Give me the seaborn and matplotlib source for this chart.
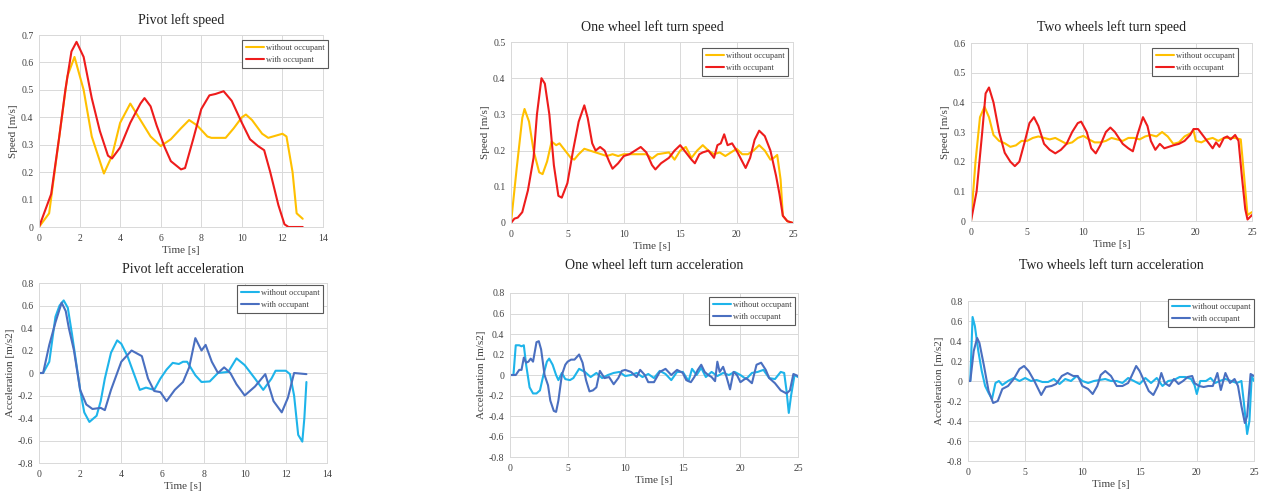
import numpy as np
import pandas as pd
import matplotlib
matplotlib.use("Agg")
import matplotlib.pyplot as plt
import seaborn as sns

# ---------------- data ----------------
# Pivot left speed [m/s]
pivot_speed_t_wo = [0, 0.5, 1.0, 1.4, 1.75, 2.2, 2.6, 3.2, 3.6, 4.0, 4.5, 5.0, 5.5, 6.0, 6.5, 7.0, 7.4,
                    7.8, 8.3, 8.5, 9.2, 9.6, 10.0, 10.2, 10.5, 11.0, 11.3, 12.0, 12.2, 12.5, 12.7, 13.0]
pivot_speed_wo = [0, 0.05, 0.33, 0.55, 0.62, 0.5, 0.33, 0.195, 0.26, 0.38, 0.45, 0.39, 0.33, 0.295, 0.32,
                  0.36, 0.39, 0.37, 0.33, 0.325, 0.325, 0.36, 0.40, 0.41, 0.39, 0.34, 0.325, 0.34, 0.33,
                  0.2, 0.05, 0.03]
pivot_speed_t_w = [0, 0.3, 0.6, 1.0, 1.3, 1.6, 1.85, 2.2, 2.6, 3.0, 3.4, 3.6, 4.0, 4.5, 5.0, 5.2, 5.5, 5.8,
                   6.2, 6.5, 7.0, 7.2, 7.6, 8.0, 8.4, 8.7, 9.1, 9.5, 10.0, 10.4, 10.8, 11.1, 11.4, 11.8,
                   12.1, 12.3, 13.0]
pivot_speed_w = [0, 0.06, 0.12, 0.33, 0.5, 0.64, 0.675, 0.62, 0.47, 0.35, 0.26, 0.25, 0.29, 0.38, 0.45,
                 0.47, 0.44, 0.37, 0.29, 0.24, 0.21, 0.215, 0.32, 0.43, 0.48, 0.485, 0.495, 0.46, 0.38,
                 0.32, 0.295, 0.28, 0.2, 0.08, 0.01, 0.0, 0.0]

# One wheel left turn speed [m/s]
one_speed_t_wo = [0, 0.5, 1.0, 1.2, 1.6, 2.0, 2.5, 2.8, 3.2, 3.6, 4.0, 4.3, 4.8, 5.3, 5.6, 6.0, 6.5, 7.0,
                  7.5, 8.0, 8.5, 9.0, 9.5, 10.0, 11.0, 12.0, 12.5, 13.0, 14.0, 14.5, 15.0, 15.5, 16.0,
                  16.5, 17.0, 17.5, 18.0, 18.5, 19.0, 19.5, 20.0, 20.5, 21.0, 21.5, 22.0, 22.5, 23.0,
                  23.3, 23.6, 23.9, 24.1, 24.5, 25.0]
one_speed_wo = [0, 0.15, 0.29, 0.315, 0.28, 0.2, 0.14, 0.135, 0.17, 0.225, 0.215, 0.22, 0.2, 0.18, 0.175,
                0.19, 0.205, 0.2, 0.195, 0.19, 0.185, 0.19, 0.185, 0.19, 0.19, 0.19, 0.178, 0.19, 0.195,
                0.175, 0.2, 0.21, 0.18, 0.2, 0.215, 0.2, 0.19, 0.195, 0.185, 0.195, 0.205, 0.19, 0.19,
                0.2, 0.215, 0.2, 0.175, 0.18, 0.188, 0.12, 0.02, 0.005, 0]
one_speed_t_w = [0, 0.3, 0.6, 1.0, 1.5, 2.0, 2.3, 2.7, 3.0, 3.4, 3.8, 4.2, 4.5, 5.0, 5.5, 6.0, 6.5, 6.8,
                 7.2, 7.5, 7.9, 8.3, 8.7, 9.0, 9.5, 10.0, 10.5, 11.0, 11.5, 12.0, 12.5, 12.8, 13.3, 14.0,
                 14.5, 15.0, 15.5, 16.0, 16.3, 16.7, 17.0, 17.5, 18.0, 18.3, 18.6, 18.9, 19.2, 19.6,
                 20.0, 20.5, 20.8, 21.2, 21.6, 22.0, 22.5, 23.0, 23.5, 23.8, 24.1, 24.5, 25.0]
one_speed_w = [0, 0.012, 0.015, 0.03, 0.09, 0.18, 0.3, 0.4, 0.385, 0.3, 0.16, 0.075, 0.07, 0.11, 0.2,
               0.28, 0.325, 0.29, 0.22, 0.2, 0.21, 0.2, 0.17, 0.15, 0.165, 0.185, 0.19, 0.2, 0.21, 0.195,
               0.16, 0.148, 0.165, 0.18, 0.2, 0.215, 0.195, 0.175, 0.165, 0.19, 0.195, 0.2, 0.18, 0.215,
               0.22, 0.245, 0.215, 0.22, 0.2, 0.17, 0.152, 0.18, 0.23, 0.255, 0.24, 0.2, 0.13, 0.08,
               0.02, 0.005, 0]

# Two wheels left turn speed [m/s]
two_speed_t_wo = [0, 0.4, 0.8, 1.2, 1.6, 2.0, 2.5, 3.0, 3.5, 4.0, 4.5, 5.0, 5.5, 6.0, 6.5, 7.0, 7.5, 8.0,
                  8.5, 9.0, 9.5, 10.0, 10.5, 11.0, 11.5, 12.0, 12.5, 13.0, 13.5, 14.0, 14.5, 15.0, 15.5,
                  16.0, 16.5, 17.0, 17.5, 18.0, 18.5, 19.0, 19.5, 19.8, 20.0, 20.5, 21.0, 21.5, 22.0,
                  22.5, 23.0, 23.5, 24.0, 24.3, 24.6, 25.0]
two_speed_wo = [0, 0.2, 0.35, 0.385, 0.35, 0.29, 0.27, 0.262, 0.25, 0.255, 0.27, 0.27, 0.28, 0.285, 0.28,
                0.275, 0.28, 0.27, 0.26, 0.265, 0.28, 0.287, 0.275, 0.265, 0.265, 0.27, 0.28, 0.275,
                0.27, 0.28, 0.28, 0.275, 0.285, 0.29, 0.285, 0.3, 0.285, 0.26, 0.265, 0.285, 0.295,
                0.305, 0.27, 0.265, 0.275, 0.28, 0.27, 0.28, 0.28, 0.28, 0.275, 0.15, 0.02, 0.03]
two_speed_t_w = [0, 0.5, 1.0, 1.3, 1.6, 2.0, 2.5, 3.0, 3.5, 3.9, 4.3, 4.8, 5.2, 5.6, 6.0, 6.5, 7.0, 7.5,
                 8.0, 8.5, 9.0, 9.5, 9.8, 10.3, 10.7, 11.1, 11.5, 12.0, 12.4, 12.8, 13.5, 14.0, 14.4,
                 14.8, 15.3, 15.7, 16.0, 16.4, 16.8, 17.2, 17.6, 18.0, 18.5, 19.0, 19.5, 19.8, 20.2,
                 20.6, 21.0, 21.5, 21.8, 22.1, 22.5, 22.8, 23.1, 23.5, 23.8, 24.1, 24.4, 24.6, 25.0]
two_speed_w = [0, 0.1, 0.3, 0.43, 0.45, 0.4, 0.3, 0.23, 0.2, 0.185, 0.2, 0.27, 0.33, 0.35, 0.32, 0.26,
               0.24, 0.228, 0.24, 0.26, 0.3, 0.33, 0.335, 0.3, 0.245, 0.228, 0.255, 0.3, 0.315, 0.3,
               0.26, 0.245, 0.235, 0.29, 0.35, 0.32, 0.27, 0.24, 0.26, 0.245, 0.25, 0.255, 0.26, 0.27,
               0.29, 0.31, 0.31, 0.29, 0.27, 0.245, 0.265, 0.25, 0.28, 0.285, 0.275, 0.29, 0.27, 0.15,
               0.04, 0.005, 0.02]

# Pivot left acceleration [m/s2]
pivot_acc_t_wo = [0, 0.2, 0.5, 0.8, 1.0, 1.2, 1.4, 1.6, 1.8, 2.0, 2.2, 2.45, 2.8, 3.0, 3.2, 3.5, 3.8, 4.0,
                  4.3, 4.6, 4.9, 5.2, 5.6, 5.9, 6.2, 6.5, 6.8, 7.0, 7.2, 7.6, 7.9, 8.3, 8.7, 9.2, 9.6,
                  10.0, 10.5, 10.9, 11.3, 11.5, 12.0, 12.2, 12.4, 12.6, 12.8, 12.9, 13.0]
pivot_acc_wo = [0, 0, 0.1, 0.5, 0.6, 0.645, 0.58, 0.35, 0.1, -0.15, -0.35, -0.435, -0.38, -0.25, -0.05,
                0.18, 0.29, 0.26, 0.15, 0.0, -0.15, -0.13, -0.15, -0.05, 0.03, 0.09, 0.08, 0.1, 0.1,
                -0.02, -0.08, -0.075, 0.0, 0.01, 0.13, 0.07, -0.05, -0.15, -0.05, 0.02, 0.02, -0.01,
                -0.2, -0.55, -0.61, -0.4, -0.08]
pivot_acc_t_w = [0, 0.2, 0.5, 0.8, 1.1, 1.3, 1.45, 1.7, 2.0, 2.3, 2.6, 3.0, 3.2, 3.5, 3.8, 4.0, 4.5, 4.8,
                 5.0, 5.3, 5.6, 5.9, 6.2, 6.6, 7.0, 7.3, 7.6, 7.9, 8.1, 8.4, 8.7, 9.0, 9.3, 9.6, 10.0,
                 10.5, 11.0, 11.4, 11.8, 12.1, 12.4, 13.0]
pivot_acc_w = [0, 0, 0.25, 0.45, 0.625, 0.55, 0.4, 0.2, -0.15, -0.28, -0.32, -0.31, -0.33, -0.15, 0.0,
               0.1, 0.2, 0.17, 0.15, -0.05, -0.16, -0.17, -0.25, -0.15, -0.08, 0.05, 0.31, 0.2, 0.25,
               0.1, 0.0, 0.05, 0.0, -0.1, -0.2, -0.12, -0.01, -0.25, -0.35, -0.22, 0.0, -0.01]

# One wheel left turn acceleration [m/s2]
one_acc_t_wo = [0, 0.3, 0.5, 0.8, 1.0, 1.2, 1.4, 1.7, 2.0, 2.3, 2.6, 2.9, 3.2, 3.4, 3.7, 4.0, 4.2, 4.5,
                4.8, 5.2, 5.5, 6.0, 6.5, 7.0, 7.5, 8.0, 8.5, 9.0, 9.5, 10.0, 10.5, 11.0, 11.5, 12.0,
                12.5, 13.0, 13.5, 14.0, 14.5, 15.0, 15.5, 15.8, 16.2, 16.6, 17.0, 17.5, 18.0, 18.5,
                19.0, 19.5, 20.0, 20.5, 21.0, 21.5, 22.0, 22.5, 23.0, 23.5, 23.8, 24.0, 24.2, 24.4,
                24.7, 25.0]
one_acc_wo = [0, 0.0, 0.29, 0.29, 0.28, 0.29, 0.1, -0.12, -0.18, -0.18, -0.15, 0.0, 0.13, 0.16, 0.1,
              0.0, -0.05, 0.02, -0.04, -0.05, -0.03, 0.06, 0.03, -0.02, 0.02, -0.03, 0.0, 0.02, 0.03,
              -0.01, 0.0, 0.02, -0.02, 0.01, -0.03, 0.04, 0.01, -0.05, 0.03, 0.03, -0.06, 0.06, 0.0,
              0.07, -0.02, 0.03, -0.01, 0.02, 0.0, 0.03, 0.0, -0.04, 0.02, 0.03, 0.05, -0.03, -0.04,
              0.03, 0.02, -0.15, -0.37, -0.2, 0.0, -0.02]
one_acc_t_w = [0, 0.5, 0.8, 1.0, 1.2, 1.4, 1.6, 1.8, 2.0, 2.3, 2.5, 2.7, 3.0, 3.3, 3.5, 3.8, 4.0, 4.2,
               4.5, 4.8, 5.0, 5.3, 5.6, 6.0, 6.3, 6.6, 6.9, 7.2, 7.5, 7.8, 8.2, 8.6, 9.0, 9.4, 9.7,
               10.0, 10.5, 11.0, 11.3, 11.7, 12.0, 12.5, 13.0, 13.5, 14.0, 14.5, 15.0, 15.3, 15.7,
               16.0, 16.3, 16.6, 16.9, 17.2, 17.5, 17.8, 18.0, 18.2, 18.5, 18.8, 19.1, 19.4, 19.7,
               20.0, 20.5, 21.0, 21.4, 21.8, 22.2, 22.5, 23.0, 23.5, 24.0, 24.3, 24.6, 25.0]
one_acc_w = [0, 0.0, 0.05, 0.05, 0.17, 0.12, 0.13, 0.16, 0.13, 0.32, 0.33, 0.25, 0.0, -0.1, -0.25, -0.35,
             -0.36, -0.25, 0.0, 0.1, 0.13, 0.15, 0.15, 0.2, 0.12, -0.05, -0.16, -0.15, -0.12, 0.04,
             -0.03, -0.02, -0.09, -0.03, 0.04, 0.05, 0.03, -0.02, 0.05, 0.0, -0.07, -0.07, 0.03, 0.06,
             0.0, 0.05, 0.02, -0.05, -0.07, -0.02, 0.05, 0.1, 0.03, 0.0, -0.02, -0.06, 0.13, 0.03,
             0.08, -0.02, -0.14, 0.03, 0.0, -0.07, -0.03, -0.08, 0.1, 0.12, 0.05, -0.03, -0.08,
             -0.15, -0.18, -0.15, 0.01, -0.01]

# Two wheels left turn acceleration [m/s2]
two_acc_t_wo = [0, 0.2, 0.4, 0.6, 0.9, 1.2, 1.5, 1.8, 2.1, 2.4, 2.7, 3.0, 3.5, 4.0, 4.5, 5.0, 5.5, 6.0,
                6.5, 7.0, 7.5, 8.0, 8.5, 9.0, 9.5, 10.0, 10.5, 11.0, 11.5, 12.0, 12.5, 13.0, 13.5,
                14.0, 14.5, 15.0, 15.5, 16.0, 16.5, 17.0, 17.5, 18.0, 18.5, 19.0, 19.5, 19.8, 20.0,
                20.3, 20.8, 21.2, 21.6, 22.0, 22.5, 23.0, 23.5, 23.9, 24.1, 24.4, 24.6, 24.8, 25.0]
two_acc_wo = [0, 0.0, 0.64, 0.55, 0.3, 0.1, -0.05, -0.12, -0.18, -0.02, 0.0, -0.04, 0.0, 0.03, 0.0,
              0.03, 0.0, 0.01, -0.01, -0.01, 0.02, -0.03, 0.02, 0.0, 0.05, 0.0, -0.02, 0.0, 0.01, 0.02,
              0.0, 0.0, -0.02, 0.03, 0.0, -0.03, 0.03, -0.02, 0.03, -0.05, 0.0, 0.01, 0.04, 0.04, 0.02,
              -0.04, -0.13, 0.0, 0.0, 0.03, -0.02, 0.0, 0.02, 0.0, -0.02, 0.0, -0.2, -0.53, -0.4, 0.05,
              0.0]
two_acc_t_w = [0, 0.2, 0.5, 0.8, 1.0, 1.4, 1.8, 2.2, 2.6, 3.0, 3.5, 4.0, 4.5, 4.9, 5.3, 5.8, 6.4, 6.8,
               7.3, 7.7, 8.2, 8.7, 9.2, 9.6, 10.0, 10.5, 10.9, 11.3, 11.6, 12.0, 12.5, 13.0, 13.5,
               14.0, 14.3, 14.7, 15.0, 15.4, 15.8, 16.2, 16.6, 16.9, 17.2, 17.6, 18.0, 18.4, 18.8,
               19.2, 19.6, 19.8, 20.2, 20.6, 21.0, 21.4, 21.8, 22.1, 22.5, 22.9, 23.3, 23.6, 23.9,
               24.2, 24.4, 24.7, 25.0]
two_acc_w = [0, 0.0, 0.3, 0.43, 0.38, 0.15, -0.1, -0.22, -0.2, -0.08, -0.05, 0.02, 0.12, 0.15, 0.1,
             0.0, -0.14, -0.06, -0.05, -0.03, 0.05, 0.08, 0.05, 0.05, -0.05, -0.08, -0.13, -0.05,
             0.06, 0.1, 0.05, -0.05, -0.05, -0.02, 0.05, 0.15, 0.1, 0.0, -0.1, -0.14, -0.05, 0.08,
             -0.02, -0.05, 0.02, -0.03, 0.0, 0.04, 0.05, -0.02, -0.05, -0.06, -0.05, -0.05, 0.08,
             -0.09, 0.08, -0.02, 0.02, -0.05, -0.25, -0.42, -0.35, 0.07, 0.05]

labels = ["without occupant", "with occupant"]
speed_colors = ["#FFC000", "#EE1C1C"]
acc_colors = ["#1EB4EA", "#4A6FC0"]

# ---------------- style ----------------
sns.set_style("whitegrid")
plt.rcParams["font.family"] = ["Liberation Serif", "DejaVu Serif"]
plt.rcParams["text.color"] = "#404040"
plt.rcParams["lines.solid_joinstyle"] = "round"
plt.rcParams["lines.solid_capstyle"] = "round"

W, H = 1263, 494
fig = plt.figure(figsize=(W / 100, H / 100), dpi=100)
fig.patch.set_facecolor("white")


def make_axes(left, top, right, bottom):
    return fig.add_axes([left / W, 1 - bottom / H, (right - left) / W, (bottom - top) / H])


panels = [
    dict(box=(39, 35, 323, 227), leg=(328, 40), title="Pivot left speed", pad=8,
         series=[(pivot_speed_t_wo, pivot_speed_wo), (pivot_speed_t_w, pivot_speed_w)],
         colors=speed_colors, ylabel="Speed [m/s]", xlim=(0, 14), xstep=2,
         ylim=(0, 0.7), ystep=0.1),
    dict(box=(511, 42, 793, 223), leg=(788, 48), title="One wheel left turn speed", pad=8,
         series=[(one_speed_t_wo, one_speed_wo), (one_speed_t_w, one_speed_w)],
         colors=speed_colors, ylabel="Speed [m/s]", xlim=(0, 25), xstep=5,
         ylim=(0, 0.5), ystep=0.1),
    dict(box=(971, 43, 1252, 221), leg=(1238, 48), title="Two wheels left turn speed", pad=9,
         series=[(two_speed_t_wo, two_speed_wo), (two_speed_t_w, two_speed_w)],
         colors=speed_colors, ylabel="Speed [m/s]", xlim=(0, 25), xstep=5,
         ylim=(0, 0.6), ystep=0.1),
    dict(box=(39, 283, 327, 463), leg=(323, 285), title="Pivot left acceleration", pad=7,
         series=[(pivot_acc_t_wo, pivot_acc_wo), (pivot_acc_t_w, pivot_acc_w)],
         colors=acc_colors, ylabel="Acceleration [m/s2]", xlim=(0, 14), xstep=2,
         ylim=(-0.8, 0.8), ystep=0.2),
    dict(box=(510, 293, 798, 457), leg=(795, 297), title="One wheel left turn acceleration", pad=17,
         series=[(one_acc_t_wo, one_acc_wo), (one_acc_t_w, one_acc_w)],
         colors=acc_colors, ylabel="Acceleration [m/s2]", xlim=(0, 25), xstep=5,
         ylim=(-0.8, 0.8), ystep=0.2),
    dict(box=(968, 301, 1254, 461), leg=(1254, 299), title="Two wheels left turn acceleration", pad=23,
         series=[(two_acc_t_wo, two_acc_wo), (two_acc_t_w, two_acc_w)],
         colors=acc_colors, ylabel="Acceleration [m/s2]", xlim=(0, 25), xstep=5,
         ylim=(-0.8, 0.8), ystep=0.2),
]

for p in panels:
    ax = make_axes(*p["box"])
    for (t, v), c, lab in zip(p["series"], p["colors"], labels):
        df = pd.DataFrame({"t": t, "v": v})
        sns.lineplot(data=df, x="t", y="v", ax=ax, color=c, lw=1.5, label=lab,
                     sort=False, estimator=None)
    ax.set_xlim(*p["xlim"])
    ax.set_ylim(*p["ylim"])
    ax.set_xticks(np.arange(p["xlim"][0], p["xlim"][1] + 1e-9, p["xstep"]))
    yt = np.round(np.arange(p["ylim"][0], p["ylim"][1] + 1e-9, p["ystep"]), 2)
    ax.set_yticks(yt)
    ax.set_yticklabels(["{:g}".format(v + 0.0) for v in yt])
    ax.tick_params(axis="both", labelsize=7, colors="#404040", length=0)
    ax.tick_params(axis="x", pad=5)
    ax.tick_params(axis="y", pad=4)
    ax.grid(True, color="#D9D9D9", lw=0.7)
    for s in ax.spines.values():
        s.set_color("#D9D9D9")
        s.set_linewidth(0.7)
    ax.set_xlabel("Time [s]", fontsize=8, color="#404040", labelpad=2)
    ax.set_ylabel(p["ylabel"], fontsize=8, color="#404040", labelpad=2)
    ax.set_title(p["title"], fontsize=10, color="#222222", pad=p["pad"])
    lx, ly = p["leg"]
    leg = ax.legend(loc="upper right", bbox_to_anchor=(lx / W, 1 - ly / H),
                    bbox_transform=fig.transFigure, borderaxespad=0, fontsize=6,
                    frameon=True, fancybox=False, framealpha=1, edgecolor="#595959",
                    handlelength=2.2, handletextpad=0.2, borderpad=0.45, labelspacing=0.55)
    leg.get_frame().set_linewidth(0.8)

fig.savefig("out.png", dpi=100, facecolor="white")
